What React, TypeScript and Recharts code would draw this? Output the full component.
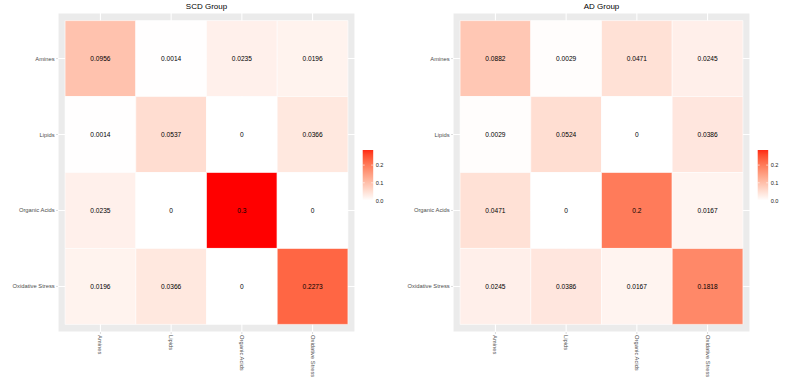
import {
  CartesianGrid,
  ComposedChart,
  ReferenceArea,
  Scatter,
  XAxis,
  YAxis,
} from 'recharts'

// categories (rows top→bottom, columns left→right)
const CATEGORIES = ['Amines', 'Lipids', 'Organic Acids', 'Oxidative Stress']

// cell values, row-major
const SCD_VALUES = [
  [0.0956, 0.0014, 0.0235, 0.0196],
  [0.0014, 0.0537, 0, 0.0366],
  [0.0235, 0, 0.3, 0],
  [0.0196, 0.0366, 0, 0.2273],
]
const AD_VALUES = [
  [0.0882, 0.0029, 0.0471, 0.0245],
  [0.0029, 0.0524, 0, 0.0386],
  [0.0471, 0, 0.2, 0.0167],
  [0.0245, 0.0386, 0.0167, 0.1818],
]

const PANEL_TITLES = ['SCD Group', 'AD Group']
const FILL_LIMITS = [0, 0.3]
const LEGEND_BREAKS = [0, 0.1, 0.2]

const FONT = '"Liberation Sans", Arial, Helvetica, sans-serif'
const CHART_W = 394
const CHART_H = 391
const AXIS_TEXT = '#4D4D4D'

// white → red ramp interpolated in CIELAB, like ggplot's scale_fill_gradient
const LAB_LOW = [100, 0, 0]
const LAB_HIGH = [53.2408, 80.0925, 67.2032]

function labToHex(L: number, a: number, b: number): string {
  const fy = (L + 16) / 116
  const fx = fy + a / 500
  const fz = fy - b / 200
  const inv = (t: number) => (t > 6 / 29 ? t * t * t : 3 * (6 / 29) ** 2 * (t - 4 / 29))
  const X = 0.95047 * inv(fx)
  const Y = inv(fy)
  const Z = 1.08883 * inv(fz)
  const lin = [
    3.2406 * X - 1.5372 * Y - 0.4986 * Z,
    -0.9689 * X + 1.8758 * Y + 0.0415 * Z,
    0.0557 * X - 0.204 * Y + 1.057 * Z,
  ]
  return (
    '#' +
    lin
      .map((c) => {
        const v = c <= 0.0031308 ? 12.92 * c : 1.055 * Math.pow(c, 1 / 2.4) - 0.055
        const n = Math.round(Math.min(1, Math.max(0, v)) * 255)
        return n.toString(16).padStart(2, '0')
      })
      .join('')
  )
}

function fillFor(value: number): string {
  const t = Math.min(1, Math.max(0, (value - FILL_LIMITS[0]) / (FILL_LIMITS[1] - FILL_LIMITS[0])))
  return labToHex(
    LAB_LOW[0] + (LAB_HIGH[0] - LAB_LOW[0]) * t,
    LAB_LOW[1] + (LAB_HIGH[1] - LAB_LOW[1]) * t,
    LAB_LOW[2] + (LAB_HIGH[2] - LAB_LOW[2]) * t,
  )
}

interface Cell {
  x: number
  y: number
  value: number
}

function toCells(matrix: number[][]): Cell[] {
  const out: Cell[] = []
  matrix.forEach((row, r) => row.forEach((value, c) => out.push({ x: c + 1, y: r + 1, value })))
  return out
}

const categoryName = (v: number) => CATEGORIES[v - 1] ?? ''

function XTick({ x, y, payload }: any) {
  return (
    <text
      x={0}
      y={0}
      transform={`translate(${x},${y}) rotate(90)`}
      textAnchor="start"
      dominantBaseline="central"
      fontSize={5.8}
      fill={AXIS_TEXT}
    >
      {categoryName(payload.value)}
    </text>
  )
}

// plain svg text so long names are not wrapped
function YTick({ x, y, payload }: any) {
  return (
    <text x={x} y={y} textAnchor="end" dominantBaseline="central" fontSize={5.8} fill={AXIS_TEXT}>
      {categoryName(payload.value)}
    </text>
  )
}

function Heatmap({ matrix }: { matrix: number[][] }) {
  const cells = toCells(matrix)
  return (
    <ComposedChart width={CHART_W} height={CHART_H} margin={{ top: 13, right: 39, bottom: 0, left: 0 }}>
      <CartesianGrid fill="#EBEBEB" stroke="#FFFFFF" strokeWidth={1.1} />
      <XAxis
        type="number"
        dataKey="x"
        domain={[0.4, 4.6]}
        ticks={[1, 2, 3, 4]}
        interval={0}
        height={59}
        axisLine={false}
        tickSize={2}
        tickMargin={1}
        tickLine={{ stroke: '#DDDDDD' }}
        tick={<XTick />}
        allowDataOverflow
      />
      <YAxis
        type="number"
        dataKey="y"
        domain={[0.4, 4.6]}
        ticks={[1, 2, 3, 4]}
        interval={0}
        reversed
        width={58}
        axisLine={false}
        tickSize={2}
        tickMargin={1.3}
        tickLine={{ stroke: '#DDDDDD' }}
        tick={<YTick />}
        allowDataOverflow
      />
      {cells.map((cell) => (
        <ReferenceArea
          key={`${cell.x}-${cell.y}`}
          x1={cell.x - 0.5}
          x2={cell.x + 0.5}
          y1={cell.y - 0.5}
          y2={cell.y + 0.5}
          fill={fillFor(cell.value)}
          fillOpacity={1}
          stroke="#FFFFFF"
          strokeWidth={0.6}
          label={{ value: String(cell.value), position: 'center', fill: '#000000', fontSize: 6.6 }}
        />
      ))}
      <Scatter data={cells} shape={() => <g />} isAnimationActive={false} />
    </ComposedChart>
  )
}

// colourbar: value → pixel mapping
const BAR_BOTTOM = 200.5
const BAR_TOP = 150
const PX_PER_UNIT = 177

function ColourBar({ left, id }: { left: number; id: string }) {
  const topValue = (BAR_BOTTOM - BAR_TOP) / PX_PER_UNIT
  const stops = Array.from({ length: 11 }, (_, i) => i / 10)
  return (
    <g>
      <defs>
        <linearGradient id={id} x1="0" y1="1" x2="0" y2="0">
          {stops.map((s) => (
            <stop key={s} offset={s} stopColor={fillFor(topValue * s)} />
          ))}
        </linearGradient>
      </defs>
      <rect x={left} y={BAR_TOP} width={10.5} height={BAR_BOTTOM - BAR_TOP} fill={`url(#${id})`} />
      {LEGEND_BREAKS.map((b) => {
        const y = BAR_BOTTOM - b * PX_PER_UNIT
        return (
          <g key={b}>
            {b > 0 && (
              <>
                <line x1={left} x2={left + 2} y1={y} y2={y} stroke="#FFFFFF" strokeWidth={0.6} />
                <line x1={left + 8.5} x2={left + 10.5} y1={y} y2={y} stroke="#FFFFFF" strokeWidth={0.6} />
              </>
            )}
            <text x={left + 13} y={y} dominantBaseline="central" fontSize={5.6} fill="#1A1A1A">
              {b.toFixed(1)}
            </text>
          </g>
        )
      })}
    </g>
  )
}

export default function App() {
  const offsets = [0, 395]
  return (
    <div
      style={{
        position: 'absolute',
        left: 0,
        top: 0,
        width: 789,
        height: 391,
        background: '#FFFFFF',
        fontFamily: FONT,
        overflow: 'hidden',
      }}
    >
      {[SCD_VALUES, AD_VALUES].map((m, i) => (
        <div key={i} style={{ position: 'absolute', left: offsets[i], top: 0 }}>
          <Heatmap matrix={m} />
        </div>
      ))}
      <svg
        width={789}
        height={391}
        style={{ position: 'absolute', left: 0, top: 0, pointerEvents: 'none', fontFamily: FONT }}
      >
        {PANEL_TITLES.map((t, i) => (
          <text key={t} x={offsets[i] + 206.5} y={8.9} textAnchor="middle" fontSize={8} fill="#000000">
            {t}
          </text>
        ))}
        {offsets.map((o, i) => (
          <ColourBar key={i} left={o + 362.7} id={`bar${i}`} />
        ))}
      </svg>
    </div>
  )
}
